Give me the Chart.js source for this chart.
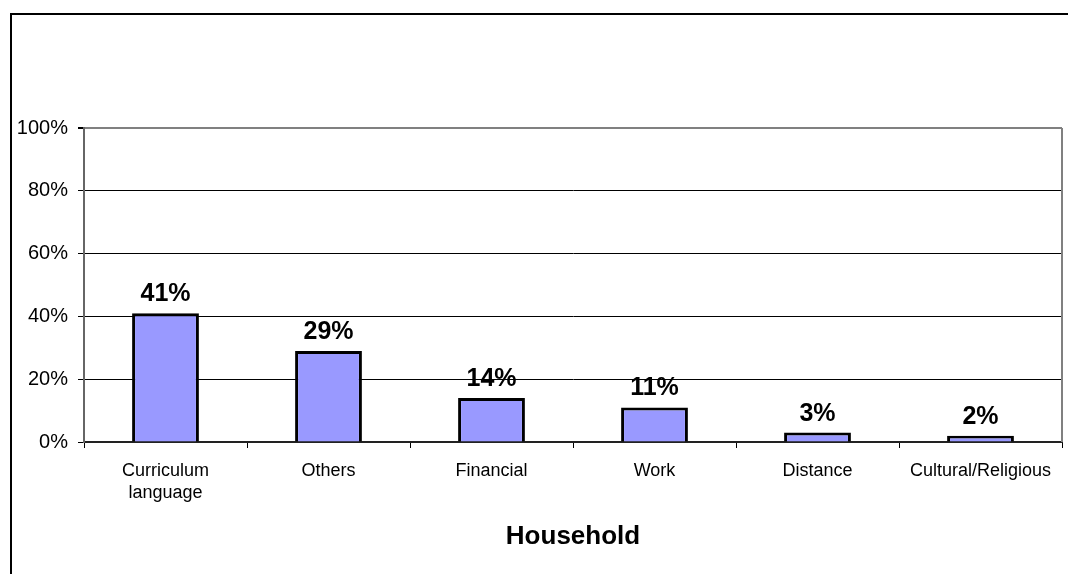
<!DOCTYPE html>
<html>
<head>
<meta charset="utf-8">
<script src="https://cdn.jsdelivr.net/npm/chart.js@4/dist/chart.umd.min.js"></script>
<style>
  html, body { margin: 0; padding: 0; background: #fff; }
  #wrap { position: relative; width: 1068px; height: 574px; }
</style>
</head>
<body>
<div id="wrap"><canvas id="chart" width="1068" height="574"></canvas></div>
<script>
// Reasons given by households (share of responses, %)
const categories = [["Curriculum", "language"], "Others", "Financial", "Work", "Distance", "Cultural/Religious"];
const shares = [41, 29, 14, 11, 3, 2];
const yTicks = [0, 20, 40, 60, 80, 100];
const axisTitle = "Household";

const FONT = "'Liberation Sans', Arial, sans-serif";

// Outer frame (top and left edges) plus the plot-area outline on the right
const framePlugin = {
  id: 'frame',
  beforeDatasetsDraw(chart) {
    const { ctx, chartArea: a } = chart;
    ctx.save();
    ctx.strokeStyle = '#808080';
    ctx.lineWidth = 2;
    ctx.beginPath();
    ctx.moveTo(a.right, a.top);
    ctx.lineTo(a.right, a.bottom);
    ctx.stroke();
    ctx.restore();
  },
  afterDraw(chart) {
    const { ctx } = chart;
    ctx.save();
    ctx.strokeStyle = '#000';
    ctx.lineWidth = 2;
    ctx.beginPath();
    ctx.moveTo(11, chart.height);
    ctx.lineTo(11, 14);
    ctx.lineTo(chart.width, 14);
    ctx.stroke();
    ctx.restore();
  }
};

// Value labels above each bar
const valueLabels = {
  id: 'valueLabels',
  afterDatasetsDraw(chart) {
    const { ctx } = chart;
    const meta = chart.getDatasetMeta(0);
    ctx.save();
    ctx.font = "bold 25px " + FONT;
    ctx.fillStyle = '#000';
    ctx.textAlign = 'center';
    ctx.textBaseline = 'alphabetic';
    meta.data.forEach((bar, i) => {
      const v = chart.data.datasets[0].data[i];
      ctx.fillText(v + '%', bar.x, bar.y - 12);
    });
    ctx.restore();
  }
};

new Chart(document.getElementById('chart'), {
  type: 'bar',
  data: {
    labels: categories,
    datasets: [{
      data: shares,
      backgroundColor: '#9999FF',
      borderColor: '#000',
      borderWidth: { top: 3, left: 3, right: 3, bottom: 0 },
      borderSkipped: false,
      categoryPercentage: 1,
      barPercentage: 0.41
    }]
  },
  options: {
    responsive: false,
    animation: false,
    events: [],
    layout: { padding: { left: 0, right: 6, top: 128, bottom: 0 } },
    plugins: { legend: { display: false }, tooltip: { enabled: false }, title: { display: false } },
    scales: {
      x: {
        grid: { display: true, drawOnChartArea: false, offset: true, color: '#000', tickColor: '#000', tickLength: 6 },
        border: { display: true, color: '#222', width: 2 },
        ticks: {
          color: '#000',
          font: { family: FONT, size: 18, lineHeight: 1.22 },
          padding: 12,
          maxRotation: 0,
          autoSkip: false
        },
        title: {
          display: true,
          text: axisTitle,
          color: '#000',
          font: { family: FONT, size: 26, weight: 'bold', lineHeight: 1.2 },
          padding: { top: 0, bottom: 22 }
        },
        afterFit(scale) { scale.height = 132; }
      },
      y: {
        min: 0,
        max: 100,
        afterBuildTicks(scale) { scale.ticks = yTicks.map(v => ({ value: v })); },
        grid: {
          color: ctx => (ctx.tick && ctx.tick.value === 100) ? '#808080' : '#000',
          lineWidth: ctx => (ctx.tick && ctx.tick.value === 100) ? 2 : 1,
          tickColor: '#000',
          tickLength: 6
        },
        border: { display: true, color: '#666', width: 2 },
        ticks: {
          color: '#000',
          font: { family: FONT, size: 20 },
          padding: 10,
          callback: v => v + '%'
        },
        afterFit(scale) { scale.width = 84; }
      }
    }
  },
  plugins: [framePlugin, valueLabels]
});
</script>
</body>
</html>
